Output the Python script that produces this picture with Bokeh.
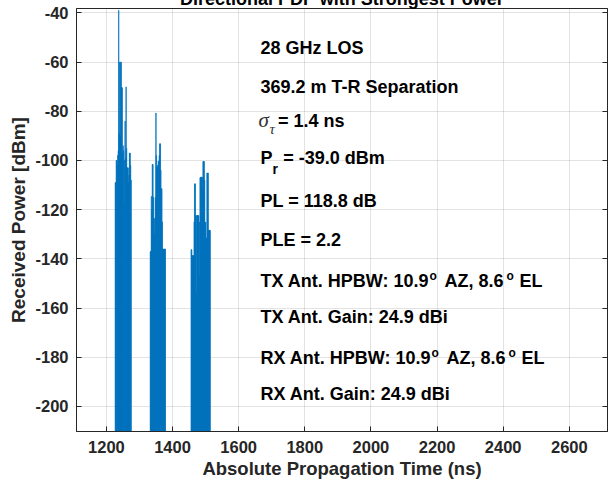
from bokeh.plotting import figure
from bokeh.models import ColumnDataSource, FixedTicker, LinearAxis, Range1d
from bokeh.core.properties import value
from bokeh.embed import file_html
from bokeh.resources import INLINE

# ---- data ----
c1_t = [1227, 1228.5, 1230, 1231.5, 1233, 1234.5, 1236, 1237.2, 1238.5, 1240, 1241.5,
        1243, 1244.5, 1246, 1247.5, 1249, 1250.5, 1252, 1253.5, 1255, 1256.5, 1258,
        1259.5, 1261, 1262.5, 1264, 1265.5, 1267, 1268.5, 1270, 1271.5, 1273, 1274.5]
c1_p = [-109, -109, -100, -100, -102, -98, -96, -39.0, -89, -60, -90,
        -60, -60, -70.4, -70.4, -97, -94, -96, -117, -100, -84, -99,
        -70.1, -95, -103, -103, -103, -109, -106, -97, -97, -102, -108]

c2_t = [1333, 1334.5, 1336, 1337.5, 1339, 1340.5, 1342, 1343.5, 1345, 1346.5, 1348,
        1349.8, 1351, 1352.5, 1354, 1355.5, 1357, 1358.5, 1360, 1361.5, 1363, 1364.5,
        1366, 1367.5, 1369, 1370.5, 1372, 1373.5, 1375, 1376.5, 1378]
c2_p = [-137, -137, -114.6, -120, -101.6, -101.6, -115, -123.6, -129.8, -123.6, -115,
        -80.7, -98, -102.7, -102.7, -102, -100.3, -100.3, -98, -93.2, -93.2, -104,
        -111.5, -111.5, -125, -136, -136, -136, -136, -136, -136]

c3_t = [1456.5, 1458, 1459.5, 1461, 1462.5, 1464, 1465.5, 1467, 1468.5, 1470, 1471.5,
        1473, 1474.5, 1476, 1477.5, 1479, 1480.5, 1482, 1483.5, 1485, 1486.5, 1488,
        1489.5, 1491, 1492.5, 1494, 1495.5, 1497, 1498.5, 1500, 1501.5, 1503, 1504.5,
        1506, 1507.5, 1509, 1510.5, 1512, 1513.5]
c3_p = [-136.3, -136.3, -138.7, -138.7, -138.7, -138.7, -125, -109.5, -109.5, -122.4, -122.4,
        -153.6, -122.4, -122.4, -122.4, -122.4, -146.8, -125, -107, -106.8, -106.8, -106.8,
        -112, -106.8, -100.4, -100.4, -100.4, -108, -125.1, -125.1, -131.5, -131.5, -105.1,
        -105.1, -105.1, -128.4, -128.4, -128.4, -128.4]

x_ticks = [1200, 1400, 1600, 1800, 2000, 2200, 2400, 2600]
y_ticks = [-200, -180, -160, -140, -120, -100, -80, -60, -40]

title_text = "Directional PDP with Strongest Power"
x_label = "Absolute Propagation Time (ns)"
y_label = "Received Power [dBm]"

info_x = 1666
info_lines = ["28 GHz LOS", "369.2 m T-R Separation", "= 1.4 ns", "P", "= -39.0 dBm",
              "PL = 118.8 dB", "PLE = 2.2",
              "TX Ant. HPBW: 10.9", "AZ, 8.6", "EL", "TX Ant. Gain: 24.9 dBi",
              "RX Ant. HPBW: 10.9", "AZ, 8.6", "EL", "RX Ant. Gain: 24.9 dBi"]
info_y = [-56.9, -72.6, -86.5, -101.8, -101.8, -119.0, -134.9,
          -151.7, -151.7, -151.7, -166.3, -183.0, -183.0, -183.0, -197.6]
info_dx = [0, 0, 17.5, 0, 22.7, 0, 0, 0, 184, 259, 0, 0, 186, 261, 0]

sup_text = ["o", "o", "o", "o"]
sup_y = [-148.9, -148.9, -180.2, -180.2]
sup_dx = [169, 246, 171, 248]

XR = (1109.5, 2715.5)
YR = (-210.2, -38.2)
BLUE = "#0072BD"
DARK = "#262626"
PX_PER_DB = 2.459


def lift(fs):
    # baseline correction (in dB) for the text renderer
    return 0.36 * fs / PX_PER_DB


p = figure(width=609, height=495, x_range=Range1d(*XR), y_range=Range1d(*YR),
           output_backend="svg", toolbar_location=None,
           min_border_left=76, min_border_right=2, min_border_top=20, min_border_bottom=50)
p.styles = {"margin-top": "-14px", "margin-bottom": "-10px"}
p.background_fill_color = "white"
p.border_fill_color = "white"
p.outline_line_color = DARK
p.outline_line_width = 1

p.title.text = title_text
p.title.align = "center"
p.title.text_font = "Liberation Sans"
p.title.text_font_style = "bold"
p.title.text_font_size = "18px"
p.title.text_color = "black"
p.title.standoff = 0
p.title.offset = 0

src = ColumnDataSource(dict(t=c1_t + c2_t + c3_t, pw=c1_p + c2_p + c3_p))
p.vbar(x="t", top="pw", bottom=-260, width=1.5, source=src,
       fill_color=BLUE, line_color=BLUE, line_width=0.6)

for ax in (p.xaxis[0], p.yaxis[0]):
    ax.axis_line_color = DARK
    ax.major_tick_line_color = DARK
    ax.major_tick_in = 5
    ax.major_tick_out = 0
    ax.minor_tick_line_color = None
    ax.major_label_text_font = "Liberation Sans"
    ax.major_label_text_font_style = "bold"
    ax.major_label_text_font_size = "16.5px"
    ax.major_label_text_color = DARK
    ax.axis_label_text_font = "Liberation Sans"
    ax.axis_label_text_font_style = "bold"
    ax.axis_label_text_color = DARK

p.xaxis[0].axis_label_text_font_size = "18.5px"
p.yaxis[0].axis_label_text_font_size = "19px"
p.xaxis[0].ticker = FixedTicker(ticks=x_ticks)
p.yaxis[0].ticker = FixedTicker(ticks=y_ticks)
p.xaxis[0].major_label_overrides = {v: str(v) for v in x_ticks}
p.yaxis[0].major_label_overrides = {v: str(v) for v in y_ticks}
p.xaxis[0].axis_label = x_label
p.yaxis[0].axis_label = y_label
p.xaxis[0].major_label_standoff = 9
p.xaxis[0].axis_label_standoff = 2
p.yaxis[0].major_label_standoff = 8
p.yaxis[0].axis_label_standoff = 3

ra = LinearAxis(ticker=FixedTicker(ticks=y_ticks))
ra.axis_line_color = DARK
ra.major_tick_line_color = DARK
ra.major_tick_in = 5
ra.major_tick_out = 0
ra.minor_tick_line_color = None
ra.major_label_text_font_size = "1px"
ra.major_label_text_color = None
ra.major_label_standoff = 0
p.add_layout(ra, "right")

p.xgrid.ticker = FixedTicker(ticks=x_ticks)
p.ygrid.ticker = FixedTicker(ticks=y_ticks)
p.grid.grid_line_color = DARK
p.grid.grid_line_alpha = 0.13

info_src = ColumnDataSource(dict(x=[info_x] * len(info_lines),
                                 y=[v + lift(18) for v in info_y],
                                 text=info_lines, dx=info_dx))
p.text(x="x", y="y", text="text", x_offset="dx", source=info_src,
       text_font=value("Liberation Sans"), text_font_style="bold", text_font_size="18px",
       text_color="black", text_baseline="alphabetic", text_align="left")

sup_src = ColumnDataSource(dict(x=[info_x] * 4, y=[v + lift(12) for v in sup_y],
                                text=sup_text, dx=sup_dx))
p.text(x="x", y="y", text="text", x_offset="dx", source=sup_src,
       text_font=value("Liberation Sans"), text_font_style="bold", text_font_size="12px",
       text_color="black", text_baseline="alphabetic", text_align="left")

p.text(x=[info_x], y=[-105.5 + lift(14)], text=["r"], x_offset=12,
       text_font=value("Liberation Sans"), text_font_style="bold", text_font_size="14px",
       text_color="black", text_baseline="alphabetic", text_align="left")

p.text(x=[info_x], y=[-86.5 + lift(21)], text=["\u03c3"], x_offset=-2,
       text_font=value("Liberation Serif"), text_font_style="italic", text_font_size="21px",
       text_color="#333333", text_baseline="alphabetic", text_align="left")
p.text(x=[info_x], y=[-89.3 + lift(15)], text=["\u03c4"], x_offset=9,
       text_font=value("Liberation Serif"), text_font_style="italic", text_font_size="15px",
       text_color="#333333", text_baseline="alphabetic", text_align="left")

open("out.html", "w").write(file_html(p, INLINE))
